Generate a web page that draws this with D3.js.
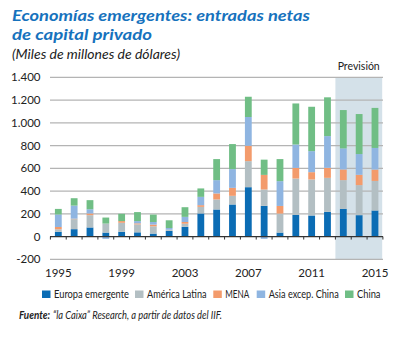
<!DOCTYPE html>
<html><head><meta charset="utf-8">
<script src="https://cdn.jsdelivr.net/npm/d3@7"></script>
<style>body{margin:0;background:#fff}svg{display:block;font-family:Lato,"Open Sans",sans-serif}</style>
</head><body><svg id="c" width="399" height="338"></svg>
<script>
const years = d3.range(1995, 2016).map(String);
const seriesNames = ["Europa emergente","América Latina","MENA","Asia excep. China","China"];
const europa  = [42,65,80,35,42,37,26,50,85,203,238,282,434,270,35,190,185,217,243,188,229];
const latam   = [22,88,108,79,79,70,64,10,28,58,88,76,229,144,167,320,317,299,253,264,260];
const mena    = [20,4,15,0,15,9,15,0,15,15,53,70,135,128,67,93,64,88,94,91,100];
const asia    = [110,115,37,-20,0,20,23,15,45,73,117,165,253,-20,218,206,185,279,185,182,190];
const china   = [49,65,80,53,64,79,65,68,85,74,185,220,178,134,194,361,390,341,337,352,352];
const yTicks = [-200,0,200,400,600,800,1000,1200,1400];
const yTickLabels = ["-200","0","200","400","600","800","1.000","1.200","1.400"];
const xTickLabels = ["1995","1999","2003","2007","2011","2015"];
const forecastYears = ["2013","2014","2015"];
const colors = ["#0b6cb4","#b3bfc3","#f39b6c","#8fb5e1","#70be85"];

const svg = d3.select("#c");
const x = d3.scaleBand().domain(years).range([50.4, 382.9]).paddingInner(0.57).paddingOuter(0.285);
const y = d3.scaleLinear().domain([-200, 1400]).range([259.3, 77.3]);

// title
svg.append("text").attr("x",12).attr("y",21).attr("fill","#1672bd").attr("font-size",16)
  .attr("font-weight","bold").attr("font-style","italic").attr("textLength",298).attr("lengthAdjust","spacingAndGlyphs")
  .text("Economías emergentes: entradas netas");
svg.append("text").attr("x",12).attr("y",39.5).attr("fill","#1672bd").attr("font-size",16)
  .attr("font-weight","bold").attr("font-style","italic").attr("textLength",140).attr("lengthAdjust","spacingAndGlyphs")
  .text("de capital privado");
svg.append("text").attr("x",12).attr("y",58.5).attr("fill","#222").attr("font-size",13.5)
  .attr("font-style","italic").attr("textLength",168).attr("lengthAdjust","spacingAndGlyphs")
  .text("(Miles de millones de dólares)");

// forecast shading
const fx0 = x(forecastYears[0]) - x.step()*x.paddingInner()/2;
svg.append("rect").attr("x", fx0).attr("y", y(1400)).attr("width", 382.2 - fx0)
  .attr("height", y(-200)-y(1400)).attr("fill","#d4e1e9");
svg.append("text").attr("x", (fx0+382)/2).attr("y",70).attr("text-anchor","middle")
  .attr("font-size",10.5).attr("fill","#222").text("Previsión");

// grid
svg.append("g").selectAll("line").data(yTicks.filter(v=>v!==0)).join("line")
  .attr("x1",50).attr("x2",383).attr("y1",d=>y(d)).attr("y2",d=>y(d))
  .attr("stroke","#b4b4b4").attr("stroke-width",1.3);
svg.append("g").selectAll("text").data(yTicks).join("text")
  .attr("x",40.5).attr("y",d=>y(d)+4).attr("text-anchor","end").attr("font-size",11.5).attr("fill","#222")
  .text((d,i)=>yTickLabels[i]);

// stacked bars
const rows = years.map((yr,i)=>({year:yr, s0:europa[i], s1:latam[i], s2:mena[i], s3:asia[i], s4:china[i]}));
const stack = d3.stack().keys(["s0","s1","s2","s3","s4"]).offset(d3.stackOffsetDiverging);
const layers = stack(rows);
svg.append("g").selectAll("g").data(layers).join("g").attr("fill",(d,i)=>colors[i])
  .selectAll("rect").data(d=>d).join("rect")
  .attr("x",d=>x(d.data.year)).attr("width",x.bandwidth())
  .attr("y",d=>y(Math.max(d[0],d[1]))).attr("height",d=>Math.abs(y(d[0])-y(d[1])));

// zero line + ticks
svg.append("line").attr("x1",50).attr("x2",383).attr("y1",y(0)).attr("y2",y(0)).attr("stroke","#333").attr("stroke-width",1.2);
const bounds = years.map(yr=>x(yr) - x.step()*x.paddingInner()/2).concat([382.9]);
svg.append("g").selectAll("line").data(bounds).join("line")
  .attr("x1",d=>d).attr("x2",d=>d).attr("y1",y(0)).attr("y2",y(0)+3).attr("stroke","#333").attr("stroke-width",1);

// x labels
svg.append("g").selectAll("text").data(xTickLabels).join("text")
  .attr("x",d=>x(d)+x.bandwidth()/2).attr("y",276.5).attr("text-anchor","middle").attr("font-size",11.5).attr("fill","#222").text(d=>d);

// legend
const legX = [42,135,213.3,256.7,345];
const legW = [75,59.5,24,70,23.5];
const lg = svg.append("g");
seriesNames.forEach((n,i)=>{
  lg.append("rect").attr("x",legX[i]).attr("y",290.5).attr("width",8.5).attr("height",7.5).attr("fill",colors[i]);
  lg.append("text").attr("x",legX[i]+12).attr("y",297.5).attr("font-size",11).attr("fill","#222")
    .attr("textLength",legW[i]).attr("lengthAdjust","spacingAndGlyphs").text(n);
});

// source
svg.append("text").attr("x",19).attr("y",319).attr("font-size",10.5).attr("font-style","italic").attr("font-weight","bold")
  .attr("fill","#222").attr("textLength",31).attr("lengthAdjust","spacingAndGlyphs").text("Fuente:");
svg.append("text").attr("x",53).attr("y",319).attr("font-size",10.5).attr("font-style","italic")
  .attr("fill","#222").attr("textLength",169).attr("lengthAdjust","spacingAndGlyphs")
  .text("“la Caixa” Research, a partir de datos del IIF.");
</script></body></html>
